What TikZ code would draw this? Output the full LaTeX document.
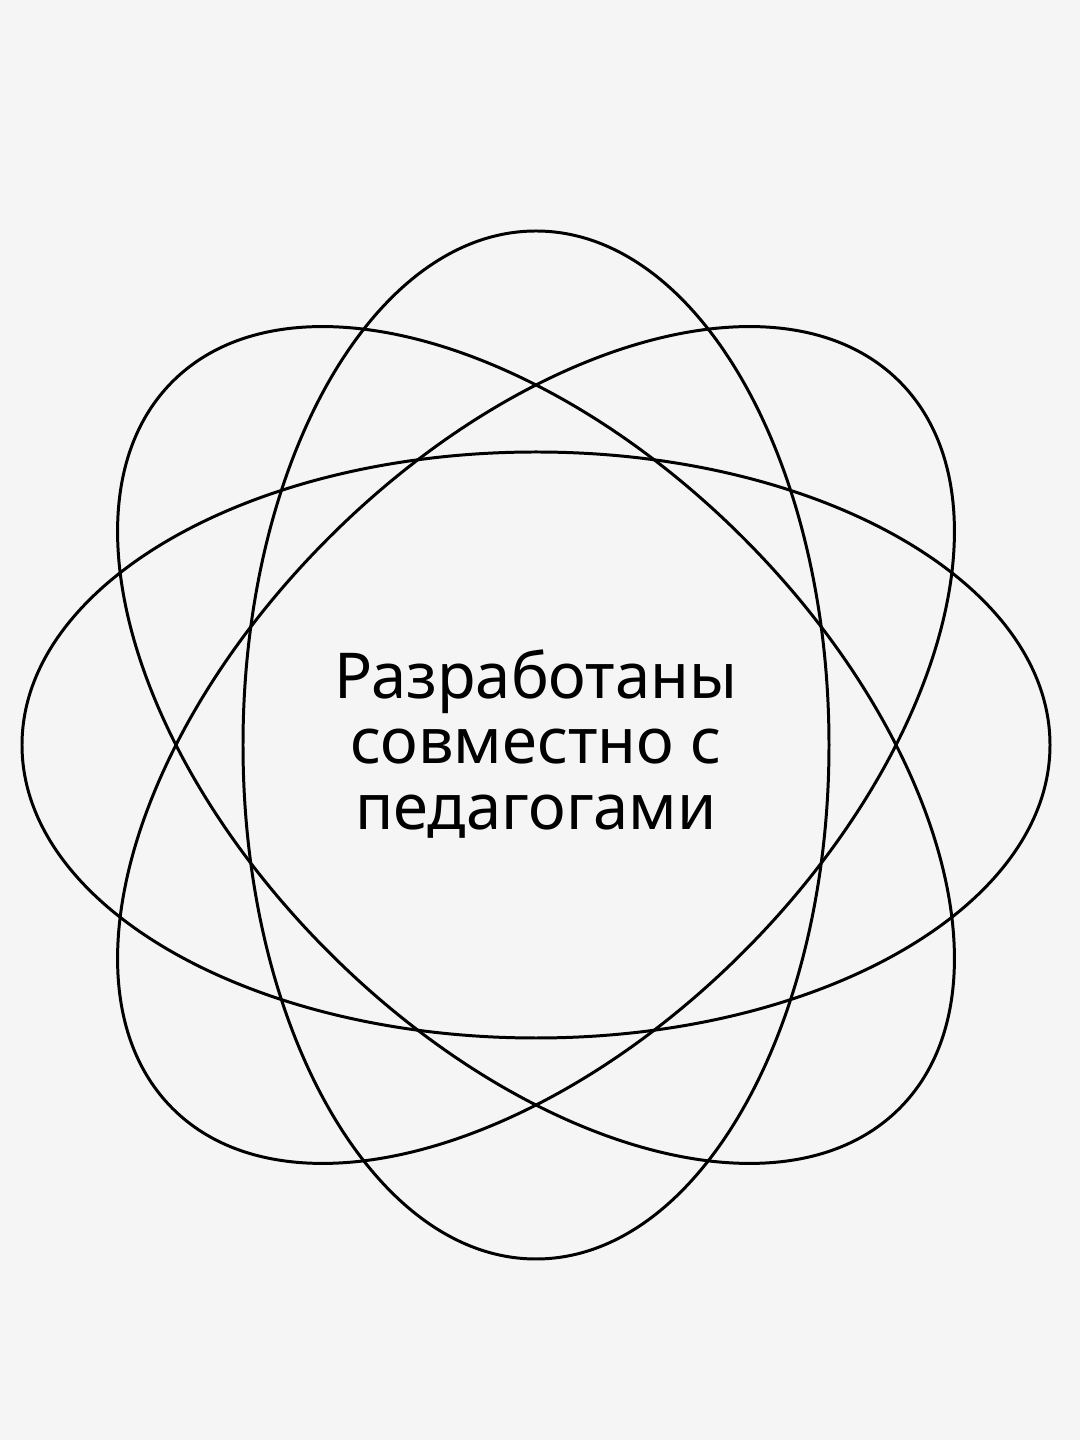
\documentclass[tikz,border=0pt]{standalone}
\usepackage{fontspec}
\setmainfont{Noto Sans}
\usepackage{xcolor}
\usepackage{tikz}
\definecolor{paper}{HTML}{F5F5F5}

\begin{document}
\begin{tikzpicture}[orbit/.style={draw=black, line width=0.85pt}]
	\fill[paper] (0,0) rectangle (10.8,14.4);
	\useasboundingbox (0,0) rectangle (10.8,14.4);
	\coordinate (c) at (5.36,6.95);
	\draw[orbit] (c) ellipse [x radius=5.14, y radius=2.93];
	\draw[orbit] (c) ellipse [x radius=2.93, y radius=5.14];
	\draw[orbit, rotate around={45:(c)}] (c) ellipse [x radius=5.14, y radius=2.93];
	\draw[orbit, rotate around={-45:(c)}] (c) ellipse [x radius=5.14, y radius=2.93];
	\node[align=center, font=\fontsize{18}{18.6}\selectfont] at (5.36,6.96) (txt) {Разработаны\\совместно с\\педагогами};
\end{tikzpicture}
\end{document}
